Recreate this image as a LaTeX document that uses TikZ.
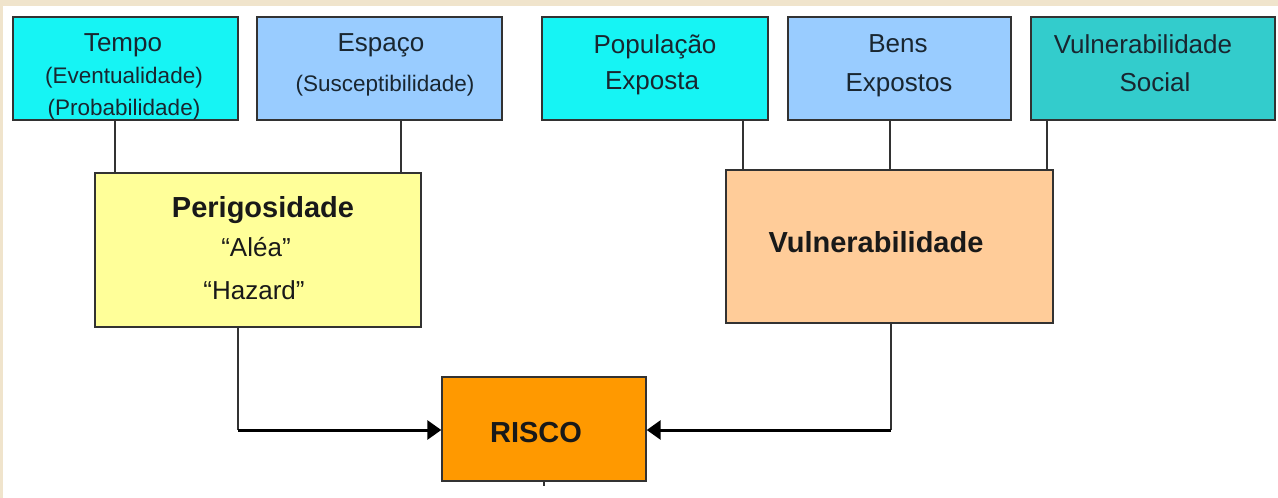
\documentclass[tikz,border=0pt]{standalone}
\usepackage{fontspec}
\setmainfont{Liberation Sans}
\usetikzlibrary{arrows.meta}
\definecolor{beige}{RGB}{240,228,204}
\definecolor{cyanbox}{RGB}{22,244,244}
\definecolor{bluebox}{RGB}{153,204,255}
\definecolor{tealbox}{RGB}{51,204,204}
\definecolor{yellowbox}{RGB}{255,255,153}
\definecolor{peachbox}{RGB}{255,204,153}
\definecolor{orangebox}{RGB}{255,153,0}
\definecolor{txtdark}{RGB}{25,38,48}
\definecolor{edge}{RGB}{50,50,50}
\newcommand\rsTop{\fontsize{26}{30}\selectfont}
\newcommand\rsSub{\fontsize{22.5}{26}\selectfont}
\newcommand\rsBold{\fontsize{29}{33}\selectfont\bfseries}
\newcommand\rsQuote{\fontsize{26}{30}\selectfont}
\begin{document}
\begin{tikzpicture}[x=1pt,y=-1pt,
  box/.style={draw=edge,line width=1.4pt,rectangle,inner sep=0pt},
  txt/.style={anchor=base,inner sep=0pt,text=txtdark},
  btxt/.style={anchor=base,inner sep=0pt,text=black!90},
  conn/.style={draw=edge,line width=1.1pt},
  arr/.style={draw=black,line width=3pt,-{Triangle[length=14pt,width=19pt]}}]
\useasboundingbox (0,0) rectangle (1278,498);
\fill[white] (0,0) rectangle (1278,498);
\fill[beige] (0,0) rectangle (1278,6);
\fill[beige] (0,0) rectangle (3,498);
% top boxes
\node[box,fill=cyanbox,minimum width=225pt,minimum height=103pt] (tempo) at (125.5,68.5) {};
\node[box,fill=bluebox,minimum width=245pt,minimum height=103pt] (espaco) at (379.5,68.5) {};
\node[box,fill=cyanbox,minimum width=226pt,minimum height=103pt] (pop) at (655,68.5) {};
\node[box,fill=bluebox,minimum width=223pt,minimum height=103pt] (bens) at (899.5,68.5) {};
\node[box,fill=tealbox,minimum width=244pt,minimum height=103pt] (vs) at (1153,68.5) {};
% middle boxes
\node[box,fill=yellowbox,minimum width=326pt,minimum height=154pt] (perig) at (258,250) {};
\node[box,fill=peachbox,minimum width=327pt,minimum height=153pt] (vuln) at (889.5,246.5) {};
% risk box
\node[box,fill=orangebox,minimum width=204pt,minimum height=104pt] (risco) at (544,429) {};
% texts
\node[txt] (t1) at (123,51) {\rsTop Tempo};
\node[txt] (t2) at (124,83) {\rsSub (Eventualidade)};
\node[txt] (t3) at (124,115) {\rsSub (Probabilidade)};
\node[txt] (e1) at (381,51) {\rsTop Espaço};
\node[txt] (e2) at (385,91) {\rsSub (Susceptibilidade)};
\node[txt] (p1) at (655,53) {\rsTop População};
\node[txt] (p2) at (652,89) {\rsTop Exposta};
\node[txt] (b1) at (898,52) {\rsTop Bens};
\node[txt] (b2) at (899,91) {\rsTop Expostos};
\node[txt] (v1) at (1143,53) {\rsTop Vulnerabilidade};
\node[txt] (v2) at (1155,91) {\rsTop Social};
\node[btxt] (g1) at (263,217) {\rsBold Perigosidade};
\node[btxt] (g2) at (256,256) {\rsQuote “Aléa”};
\node[btxt] (g3) at (254,299) {\rsQuote “Hazard”};
\node[btxt] (vt) at (876,252) {\rsBold Vulnerabilidade};
\node[btxt] (rt) at (536,442) {\rsBold RISCO};
% connectors top -> middle
\coordinate (xa) at (115,0);
\coordinate (xb) at (401,0);
\coordinate (xc) at (743,0);
\coordinate (xd) at (890,0);
\coordinate (xe) at (1047,0);
\draw[conn] (tempo.south -| xa) -- (perig.north -| xa);
\draw[conn] (espaco.south -| xb) -- (perig.north -| xb);
\draw[conn] (pop.south -| xc) -- (vuln.north -| xc);
\draw[conn] (bens.south -| xd) -- (vuln.north -| xd);
\draw[conn] (vs.south -| xe) -- (vuln.north -| xe);
% connectors to risk
\coordinate (kl) at (238,430);
\coordinate (kr) at (891,430);
\draw[conn] (perig.south -| kl) -- (kl);
\draw[arr] (kl) -- (risco.west |- kl);
\draw[conn] (vuln.south -| kr) -- (kr);
\draw[arr] (kr) -- (risco.east |- kr);
\draw[conn] (risco.south) -- ++(0,4);
\end{tikzpicture}
\end{document}
